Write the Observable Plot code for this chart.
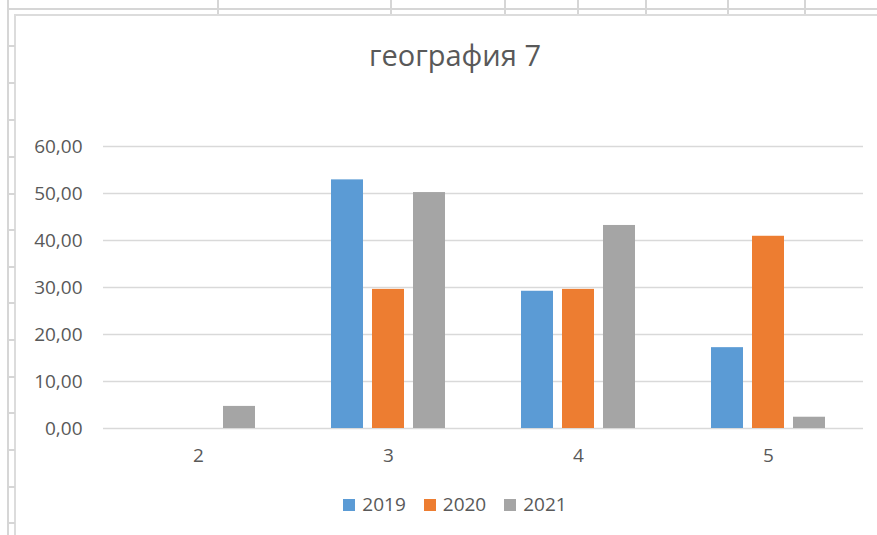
<!DOCTYPE html>
<html>
<head>
<meta charset="utf-8">
<script src="https://cdn.jsdelivr.net/npm/d3@7"></script>
<script src="https://cdn.jsdelivr.net/npm/@observablehq/plot@0.6"></script>
<style>
  html, body { margin: 0; padding: 0; background: #fff; }
  #page { position: relative; width: 877px; height: 535px; overflow: hidden; background: #fff; font-family: "Open Sans", sans-serif; }
  .ln { position: absolute; background: #d6d6d6; }
  #title { position: absolute; left: 15px; width: 880px; top: 40px; text-align: center; font-size: 29px; line-height: 29px; color: #595959; }
  #chart { position: absolute; left: 0; top: 100px; }
  #legend { position: absolute; left: 15px; width: 880px; top: 495px; display: flex; justify-content: center; align-items: center; font-size: 19px; line-height: 19px; color: #595959; }
  .item { display: flex; align-items: center; margin: 0 9px; }
  .sw { width: 12px; height: 12px; margin-right: 7px; }
</style>
</head>
<body>
<div id="page">
  <div id="title">география 7</div>
  <div id="chart"></div>
  <div id="legend"></div>
</div>
<script>
// ---- data ----
const categories = ["2", "3", "4", "5"];
const years = ["2019", "2020", "2021"];
const values2019 = [0, 52.9, 29.2, 17.2];
const values2020 = [0, 29.6, 29.6, 40.9];
const values2021 = [4.7, 50.2, 43.2, 2.4];
const yTicks = [0, 10, 20, 30, 40, 50, 60];
const seriesColors = ["#5b9bd5", "#ed7d31", "#a5a5a5"];

// spreadsheet background decoration (cell borders behind the chart)
const sheetColumnLines = [217, 390, 504, 577, 645, 727, 804];
const sheetRowLines = [45, 82, 119, 156, 193, 229, 266, 302, 339, 376, 412, 449, 486, 522];

const page = document.getElementById("page");
function line(l, t, w, h, color) {
  const d = document.createElement("div");
  d.className = "ln";
  d.style.left = l + "px"; d.style.top = t + "px";
  d.style.width = w + "px"; d.style.height = h + "px";
  if (color) d.style.background = color;
  page.insertBefore(d, page.firstChild);
}
line(7, 0, 2, 535);
line(7, 8, 870, 2);
sheetColumnLines.forEach(x => line(x, 0, 2, 14));
sheetRowLines.forEach(y => line(8, y, 7, 1.5));
line(14, 14, 863, 1.5, "#dcdcdc");
line(14, 14, 1.5, 521, "#dcdcdc");

// ---- chart ----
const series = [values2019, values2020, values2021];
const data = categories.flatMap((c, i) =>
  years.map((y, j) => ({ category: c, year: y, value: series[j][i] }))
);

const fmt = d => d.toFixed(2).replace(".", ",");

const chart = Plot.plot({
  width: 877,
  height: 380,
  marginLeft: 101,
  marginRight: 13,
  marginTop: 46,
  marginBottom: 52,
  style: { fontFamily: "Open Sans", fontSize: "19px", color: "#595959", background: "transparent", overflow: "visible" },
  fx: { domain: categories, padding: 0, label: null },
  x: { domain: years, paddingInner: 0.214, paddingOuter: 0.878, axis: null },
  y: { domain: [0, 60], axis: null },
  color: { domain: years, range: seriesColors },
  marks: [
    Plot.gridY(yTicks, { stroke: "#d9d9d9", strokeOpacity: 1, strokeWidth: 1.4 }),
    Plot.barY(data, { fx: "category", x: "year", y: "value", fill: "year" }),
    Plot.axisY(yTicks, { tickSize: 0, tickPadding: 21, tickFormat: fmt, label: null, fill: "#595959" }),
    Plot.axisFx({ anchor: "bottom", tickSize: 0, tickPadding: 20, label: null, fill: "#595959" })
  ]
});
document.getElementById("chart").appendChild(chart);

// ---- legend ----
const legend = document.getElementById("legend");
years.forEach((y, i) => {
  const it = document.createElement("div");
  it.className = "item";
  const sw = document.createElement("div");
  sw.className = "sw";
  sw.style.background = seriesColors[i];
  const tx = document.createElement("span");
  tx.textContent = y;
  it.appendChild(sw); it.appendChild(tx);
  legend.appendChild(it);
});
</script>
</body>
</html>
